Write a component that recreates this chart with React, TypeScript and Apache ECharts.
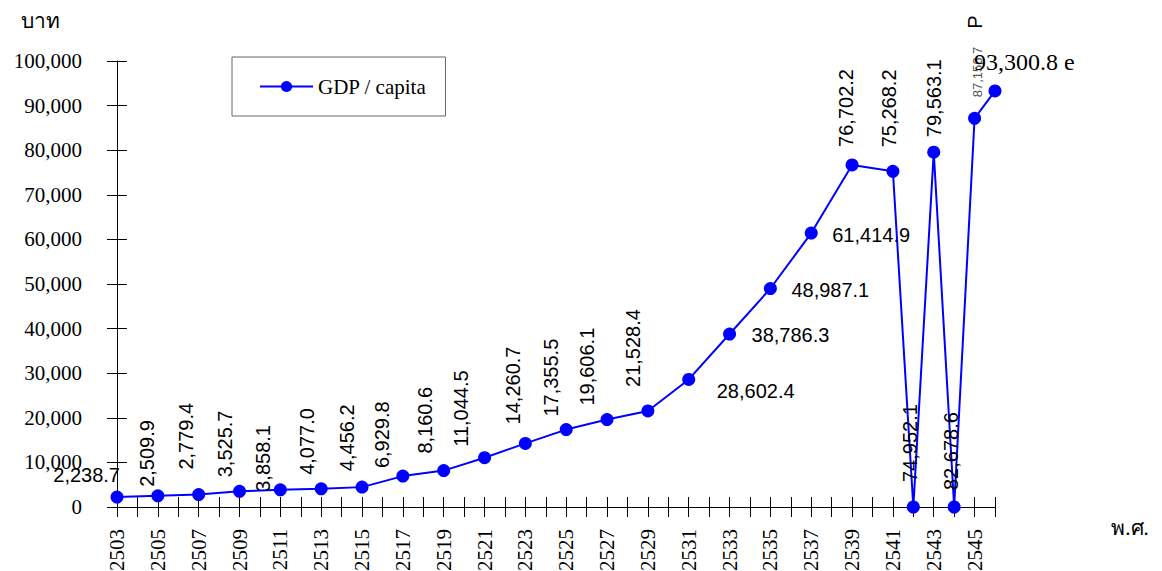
import React, { useEffect, useRef } from "react";
import * as echarts from "echarts";

// ---- data ----
const years = [2503, 2505, 2507, 2509, 2511, 2513, 2515, 2517, 2519, 2521, 2523, 2525, 2527, 2529, 2531, 2533, 2535, 2537, 2539, 2541, 2542, 2543, 2544, 2545, 2546];
const gdpPerCapita = [2238.7, 2509.9, 2779.4, 3525.7, 3858.1, 4077.0, 4456.2, 6929.8, 8160.6, 11044.5, 14260.7, 17355.5, 19606.1, 21528.4, 28602.4, 38786.3, 48987.1, 61414.9, 76702.2, 75268.2, 0, 79563.1, 0, 87156.7, 93300.8];
const labelTexts = ["2,238.7", "2,509.9", "2,779.4", "3,525.7", "3,858.1", "4,077.0", "4,456.2", "6,929.8", "8,160.6", "11,044.5", "14,260.7", "17,355.5", "19,606.1", "21,528.4", "28,602.4", "38,786.3", "48,987.1", "61,414.9", "76,702.2", "75,268.2", "74,952.1", "79,563.1", "82,678.6", "87,156.7", "93,300.8 e"];
const seriesName = "GDP / capita";
const yTicks = { min: 0, max: 100000, interval: 10000 };
const xRange = { min: 2503, max: 2546, interval: 1 };

// ---- label layout (styling) : [dx, dy, rotate, align, kind] ----
const labelLayout: [number, number, number, string, string][] = [
  [3, -22, 0, "right", "n"],
  [-11, -9, 90, "left", "n"],
  [-13, -25, 90, "left", "n"],
  [-15, -14, 90, "left", "n"],
  [-17, 2, 90, "left", "n"],
  [-14, -14, 90, "left", "n"],
  [-15, -16, 90, "left", "n"],
  [-21, -8, 90, "left", "n"],
  [-19, -17, 90, "left", "n"],
  [-24, -11, 90, "left", "n"],
  [-12, -19, 90, "left", "n"],
  [-15, -13, 90, "left", "n"],
  [-20, -14, 90, "left", "n"],
  [-15, -24, 90, "left", "n"],
  [28, 12, 0, "left", "n"],
  [22, 1, 0, "left", "n"],
  [21, 1.5, 0, "left", "n"],
  [21, 2, 0, "left", "n"],
  [-6, -18, 90, "left", "n"],
  [-4, -24, 90, "left", "n"],
  [-3, -25, 90, "left", "n"],
  [0, -15, 90, "left", "n"],
  [-3, -17, 90, "left", "n"],
  [3, -21, 90, "left", "s"],
  [-21, -29, 0, "left", "e"],
];

const SERIF = "'Liberation Serif', 'Times New Roman', serif";
const SANS = "'Liberation Sans', Arial, sans-serif";
const SYM = 13;

export default function App() {
  const ref = useRef<HTMLDivElement>(null);
  useEffect(() => {
    if (!ref.current) return;
    const chart = echarts.init(ref.current, undefined, { renderer: "svg" });
    const data = years.map((y, i) => {
      const [dx, dy, rot, align, kind] = labelLayout[i];
      const font = kind === "e" ? { fontFamily: SERIF, fontSize: 24, color: "#000" } : kind === "s" ? { fontFamily: SANS, fontSize: 13, color: "#555" } : { fontFamily: SANS, fontSize: 20, color: "#000" };
      return {
        value: [y, gdpPerCapita[i]],
        label: {
          show: true,
          formatter: labelTexts[i],
          position: [SYM / 2 + dx, SYM / 2 + dy],
          rotate: rot,
          align,
          verticalAlign: "middle",
          ...font,
        },
      };
    });
    const gridRect = { left: 117, right: 167, top: 61, bottom: 64, outerBoundsMode: "none", containLabel: false };
    const option: any = {
      animation: false,
      backgroundColor: "#fff",
      grid: [gridRect, { ...gridRect }],
      legend: {
        data: [seriesName],
        left: 232,
        top: 57,
        orient: "horizontal",
        borderColor: "#666",
        borderWidth: 1,
        padding: [19, 19, 19, 27],
        itemWidth: 53,
        itemHeight: 14,
        textStyle: { fontFamily: SERIF, fontSize: 21, color: "#000" },
      },
      xAxis: [
        {
          type: "value",
          gridIndex: 0,
          min: xRange.min,
          max: xRange.max,
          interval: xRange.interval,
          axisLine: { show: true, lineStyle: { color: "#000", width: 1 } },
          axisTick: { show: true, inside: false, length: 10, lineStyle: { color: "#000" } },
          axisLabel: {
            show: true,
            rotate: 90,
            margin: 22,
            fontFamily: SERIF,
            fontSize: 21,
            color: "#000",
            hideOverlap: false,
            showMinLabel: true,
            showMaxLabel: true,
            formatter: (v: number) => (v % 2 === 1 ? String(v) : ""),
          },
          splitLine: { show: false },
        },
        {
          type: "value",
          gridIndex: 1,
          min: xRange.min,
          max: xRange.max,
          interval: xRange.interval,
          axisLine: { show: false },
          axisTick: { show: true, inside: true, length: 10, lineStyle: { color: "#000" } },
          axisLabel: { show: false },
          splitLine: { show: false },
        },
      ],
      yAxis: [
        {
          type: "value",
          gridIndex: 0,
          min: yTicks.min,
          max: yTicks.max,
          interval: yTicks.interval,
          axisLine: { show: true, lineStyle: { color: "#000", width: 1 } },
          axisTick: { show: true, inside: false, length: 10, lineStyle: { color: "#000" } },
          axisLabel: {
            show: true,
            margin: 35,
            fontFamily: SERIF,
            fontSize: 21,
            color: "#000",
            formatter: (v: number) => v.toLocaleString("en-US"),
          },
          splitLine: { show: false },
        },
        {
          type: "value",
          gridIndex: 1,
          min: yTicks.min,
          max: yTicks.max,
          interval: yTicks.interval,
          axisLine: { show: false },
          axisTick: { show: true, inside: true, length: 10, lineStyle: { color: "#000" } },
          axisLabel: { show: false },
          splitLine: { show: false },
        },
      ],
      series: [
        {
          name: seriesName,
          type: "line",
          xAxisIndex: 0,
          yAxisIndex: 0,
          data,
          symbol: "circle",
          symbolSize: SYM,
          showAllSymbol: true,
          lineStyle: { color: "#0000ff", width: 2 },
          itemStyle: { color: "#0000ff" },
          labelLayout: { hideOverlap: false },
          emphasis: { disabled: true },
        },
      ],
      graphic: [
        { type: "text", x: 40, y: 21, style: { text: "บาท", fontFamily: SERIF, fontSize: 21, fill: "#000", align: "center", verticalAlign: "middle" } },
        { type: "text", x: 1130, y: 528, style: { text: "พ.ศ.", fontFamily: SERIF, fontSize: 21, fill: "#000", align: "center", verticalAlign: "middle" } },
        { type: "text", x: 975, y: 22, rotation: Math.PI / 2, style: { text: "P", fontFamily: SANS, fontSize: 20, fill: "#000", align: "center", verticalAlign: "middle" } },
      ],
    };
    chart.setOption(option);
    return () => chart.dispose();
  }, []);
  return <div ref={ref} style={{ position: "fixed", left: 0, top: 0, width: 1162, height: 571 }} />;
}
